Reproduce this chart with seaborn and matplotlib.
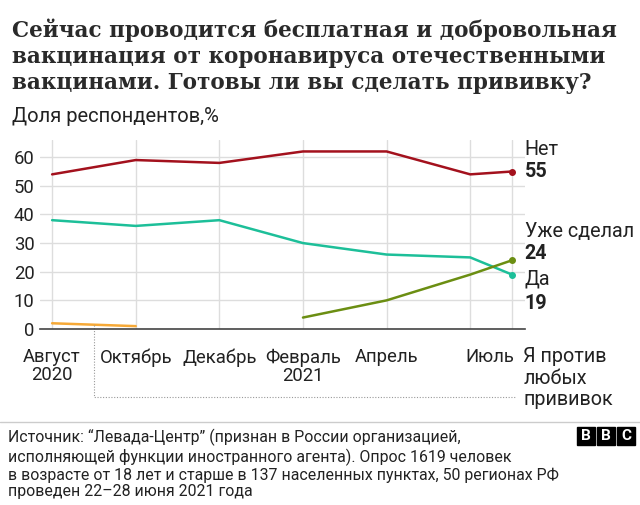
import numpy as np
import pandas as pd
import seaborn as sns
import matplotlib.pyplot as plt
from matplotlib.patches import Rectangle
import matplotlib.transforms as mtransforms

# months since August 2020
months = [0, 2, 4, 6, 8, 10, 11]
tick_labels = ['Август\n2020', 'Октябрь', 'Декабрь', 'Февраль\n2021', 'Апрель', '', 'Июль']

no_vals = [54, 59, 58, 62, 62, 54, 55]
yes_vals = [38, 36, 38, 30, 26, 25, 19]
done_months = [6, 8, 10, 11]
done_vals = [4, 10, 19, 24]
against_months = [0, 2]
against_vals = [2, 1]

series_names = ['Нет', 'Да', 'Уже сделал', 'Я против любых прививок']
colors = {'Нет': '#a3111d', 'Да': '#1dbf99', 'Уже сделал': '#6b8e12', 'Я против любых прививок': '#f6a937'}

rows = []
for m, v in zip(months, no_vals):
    rows.append(('Нет', m, v))
for m, v in zip(months, yes_vals):
    rows.append(('Да', m, v))
for m, v in zip(done_months, done_vals):
    rows.append(('Уже сделал', m, v))
for m, v in zip(against_months, against_vals):
    rows.append(('Я против любых прививок', m, v))
df = pd.DataFrame(rows, columns=['series', 'month', 'value'])

sns.set_style('white')
plt.rcParams['font.family'] = ['Roboto', 'DejaVu Sans']

fig = plt.figure(figsize=(6.4, 5.05), dpi=100)
ax = fig.add_axes([40 / 640, 1 - 329 / 505, 485 / 640, 189 / 505])

sns.lineplot(data=df, x='month', y='value', hue='series', palette=colors,
             hue_order=series_names, linewidth=1.8, ax=ax, legend=False)

ax.set_xlim(-0.29, 11.31)
ax.set_ylim(0, 66)
ax.set_yticks(range(0, 61, 10))
ax.tick_params(axis='y', length=0, labelsize=13.3, pad=4, labelcolor='#222222')
ax.set_xticks(months)
ax.set_xticklabels(tick_labels)
ax.tick_params(axis='x', length=12, width=1, color='#dddddd', labelsize=13.3, pad=2,
               labelcolor='#222222')
for lab in ax.get_xticklabels():
    lab.set_linespacing(1.0)
last = ax.get_xticklabels()[-1]
last.set_horizontalalignment('right')
last.set_transform(last.get_transform() + mtransforms.ScaledTranslation(2 / 100, 0, fig.dpi_scale_trans))

ax.grid(True, color='#dddddd', linewidth=1)
for s in ['top', 'right', 'left']:
    ax.spines[s].set_visible(False)
ax.spines['bottom'].set_color('#444444')
ax.spines['bottom'].set_linewidth(1.2)
ax.set_xlabel('')
ax.set_ylabel('')

# end dots
for name, xs, vs in [('Нет', months, no_vals), ('Да', months, yes_vals),
                     ('Уже сделал', done_months, done_vals)]:
    ax.plot(xs[-1], vs[-1], 'o', color=colors[name], markersize=4, clip_on=False, zorder=5)

# right labels (offsets in points from the last point)
def end_label(name, x, v, name_dy, val_dy):
    ax.annotate(name, (x, v), xytext=(9, name_dy), textcoords='offset points',
                fontsize=14.2, color='#222222', va='center', annotation_clip=False)
    ax.annotate(str(v), (x, v), xytext=(9, val_dy), textcoords='offset points',
                fontsize=14.2, weight='bold', color='#222222', va='center', annotation_clip=False)

end_label('Нет', months[-1], no_vals[-1], 16, 0)
end_label('Уже сделал', done_months[-1], done_vals[-1], 21, 5)
end_label('Да', months[-1], yes_vals[-1], -3, -21)

# connector for "Я против любых прививок"
mid_x = np.mean(against_months)
mid_y = np.mean(against_vals)
trans = mtransforms.blended_transform_factory(ax.transData, ax.transAxes)
ax.plot([mid_x, mid_x, months[-1] + 0.07], [mid_y / 66, -0.36, -0.36], transform=trans,
        color='#999999', linestyle=(0, (1, 1.5)), linewidth=0.8, clip_on=False)
ax.annotate('Я против\nлюбых\nпрививок', (months[-1], -0.26), xycoords=trans,
            xytext=(8, 0), textcoords='offset points',
            fontsize=14.2, color='#222222', va='center', ha='left', linespacing=1.15,
            annotation_clip=False)

fig.text(12 / 640, 1 - 18 / 505,
         'Сейчас проводится бесплатная и добровольная\nвакцинация от коронавируса отечественными\nвакцинами. Готовы ли вы сделать прививку?',
         fontsize=15.5, weight='bold', family='DejaVu Serif', color='#2a2a2a',
         va='top', ha='left', linespacing=1.25)
fig.text(12 / 640, 1 - 117 / 505, 'Доля респондентов,%', fontsize=14.5, color='#222222',
         va='center', ha='left')

fig.add_artist(plt.Line2D([0, 1], [1 - 422 / 505] * 2, color='#cccccc', linewidth=1))
fig.text(8 / 640, 1 - 429 / 505,
         'Источник: “Левада-Центр” (признан в России организацией,\nисполняющей функции иностранного агента). Опрос 1619 человек\nв возрасте от 18 лет и старше в 137 населенных пунктах, 50 регионах РФ\nпроведен 22–28 июня 2021 года',
         fontsize=11.4, color='#222222', va='top', ha='left', linespacing=1.15)

for i, letter in enumerate('BBC'):
    x0 = (577 + i * 20) / 640
    fig.add_artist(Rectangle((x0, 1 - 445 / 505), 18 / 640, 18 / 505, transform=fig.transFigure,
                             color='#000000'))
    fig.text(x0 + 9 / 640, 1 - 436 / 505, letter, color='white', fontsize=11, weight='bold',
             ha='center', va='center')

fig.savefig('out.png', dpi=100)
